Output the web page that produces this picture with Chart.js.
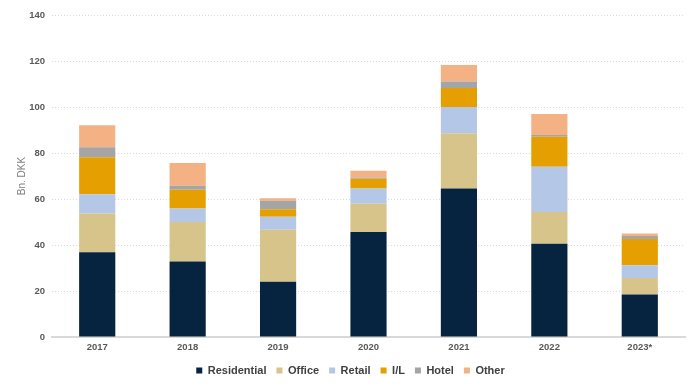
<!DOCTYPE html>
<html>
<head>
<meta charset="utf-8">
<script src="https://cdn.jsdelivr.net/npm/chart.js@4.4.0/dist/chart.umd.min.js"></script>
<style>
  html, body { margin: 0; padding: 0; background: #ffffff; }
  #wrap { width: 700px; height: 389px; position: relative; }
</style>
</head>
<body>
<div id="wrap"><canvas id="c" width="700" height="389"></canvas></div>
<script>
const categories = ["2017", "2018", "2019", "2020", "2021", "2022", "2023*"];
const seriesNames = ["Residential", "Office", "Retail", "I/L", "Hotel", "Other"];
const residential = [36.8, 32.8, 24.0, 45.7, 64.6, 40.5, 18.5];
const office      = [16.9, 17.2, 22.6, 12.2, 24.0, 13.9, 7.1];
const retail      = [8.4, 5.9, 5.7, 6.7, 11.4, 19.6, 5.6];
const il          = [16.0, 8.1, 3.2, 4.2, 8.3, 13.1, 11.4];
const hotel       = [4.4, 1.8, 3.7, 0.6, 2.8, 0.7, 1.3];
const other       = [9.6, 9.9, 1.1, 2.9, 7.2, 9.2, 1.1];
const yTicks = [0, 20, 40, 60, 80, 100, 120, 140];

const colors = ["#06233F", "#D6C48A", "#B4C7E7", "#E59F00", "#A5A5A5", "#F4B183"];
const values = [residential, office, retail, il, hotel, other];

const datasets = seriesNames.map((name, i) => ({
  label: name,
  data: values[i],
  backgroundColor: colors[i],
  borderWidth: 0,
  barPercentage: 0.8,
  categoryPercentage: 0.5
}));

new Chart(document.getElementById('c'), {
  type: 'bar',
  data: { labels: categories, datasets: datasets },
  options: {
    responsive: false,
    animation: false,
    layout: { padding: { top: 15, right: 15, left: 16, bottom: 3 } },
    plugins: {
      legend: {
        position: 'bottom',
        labels: {
          boxWidth: 6,
          boxHeight: 6,
          padding: 10,
          color: '#404040',
          font: { family: 'Liberation Sans', size: 11, weight: 'bold' }
        }
      },
      tooltip: { enabled: false }
    },
    scales: {
      x: {
        stacked: true,
        grid: { display: false },
        border: { display: true, color: '#D9D9D9', width: 2 },
        ticks: {
          color: '#595959',
          padding: -3,
          font: { family: 'Liberation Sans', size: 9.5, weight: 'bold' }
        },
        afterFit: (s) => { s.height = 18; }
      },
      y: {
        stacked: true,
        min: 0,
        max: 140,
        afterBuildTicks: (s) => { s.ticks = yTicks.map(v => ({ value: v })); },
        grid: { color: '#D9D9D9', drawTicks: false },
        border: { display: false, dash: [1, 2] },
        ticks: {
          color: '#595959',
          padding: 7,
          font: { family: 'Liberation Sans', size: 9.5, weight: 'bold' }
        },
        title: {
          display: true,
          text: 'Bn. DKK',
          color: '#7F7F7F',
          padding: { top: 0, bottom: 4 },
          font: { family: 'Liberation Sans', size: 10 }
        },
        afterFit: (s) => { s.width = 36; }
      }
    }
  }
});
</script>
</body>
</html>
